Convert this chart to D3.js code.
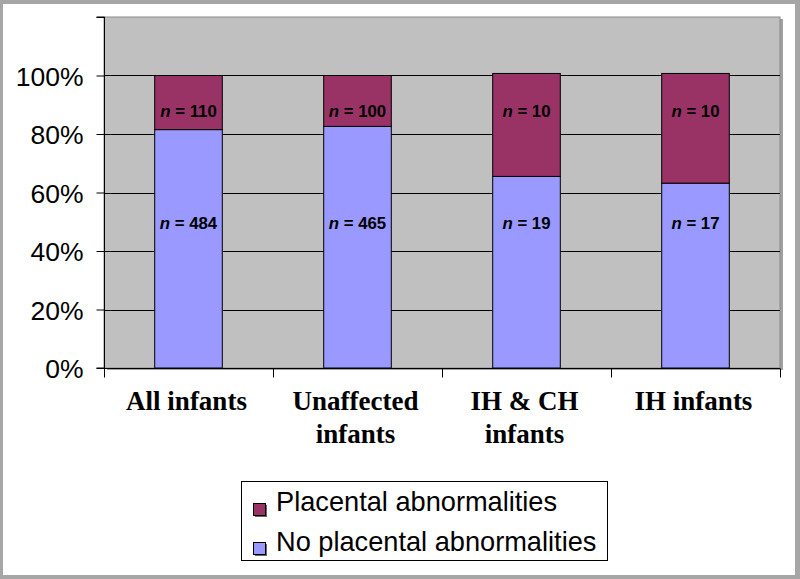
<!DOCTYPE html>
<html>
<head>
<meta charset="utf-8">
<script src="https://cdn.jsdelivr.net/npm/d3@7/dist/d3.min.js"></script>
<style>
  html, body { margin: 0; padding: 0; background: #fff; }
  svg { display: block; }
</style>
</head>
<body>
<svg id="chart" width="800" height="579"></svg>
<script>
// ---- data ----
const categories = [["All infants"], ["Unaffected", "infants"], ["IH & CH", "infants"], ["IH infants"]];
const noAbnormalPct = [81.5, 82.6, 65.5, 63.2];   // % of bar, lower segment
const abnormalPct   = [18.5, 17.4, 35.2, 37.5];   // % of bar, upper segment
const noAbnormalN   = [484, 465, 19, 17];
const abnormalN     = [110, 100, 10, 10];
const yTicks = [0, 20, 40, 60, 80, 100, 120];
const yTickLabels = ["0%", "20%", "40%", "60%", "80%", "100%", ""];
const seriesNames = ["Placental abnormalities", "No placental abnormalities"];
const seriesColors = ["#993366", "#9999ff"];

const svg = d3.select("#chart");
const W = 800, H = 579;

// outer frame
svg.append("rect").attr("x", 0).attr("y", 0).attr("width", W).attr("height", H).attr("fill", "#a6a6a6");
svg.append("rect").attr("x", 3).attr("y", 4).attr("width", 792).attr("height", 571).attr("fill", "#ffffff");

const plot = { left: 104, right: 780, top: 17, bottom: 368 };
const keys = categories.map(c => c.join(" "));
const x = d3.scaleBand().domain(keys).range([plot.left, plot.right]).paddingInner(0).paddingOuter(0);
const y = d3.scaleLinear().domain([0, 120]).range([plot.bottom, plot.top]);

// plot area background + shadow
svg.append("rect").attr("x", plot.left + 3).attr("y", plot.top + 2)
  .attr("width", plot.right - plot.left).attr("height", plot.bottom - plot.top)
  .attr("fill", "#a0a0a0");
svg.append("rect").attr("x", plot.left).attr("y", plot.top)
  .attr("width", plot.right - plot.left).attr("height", plot.bottom - plot.top)
  .attr("fill", "#c0c0c0").attr("stroke", "#8a8a8a").attr("stroke-width", 1);

// gridlines
svg.append("g").selectAll("line").data(yTicks.filter(t => t > 0 && t < 120)).join("line")
  .attr("x1", plot.left).attr("x2", plot.right)
  .attr("y1", d => Math.round(y(d)) + 0.5).attr("y2", d => Math.round(y(d)) + 0.5)
  .attr("stroke", "#000").attr("stroke-width", 1);

// bars
const bw = x.bandwidth() * 0.4;
const barG = svg.append("g");
keys.forEach((k, i) => {
  const x0 = x(k) + (x.bandwidth() - bw) / 2;
  barG.append("rect").attr("x", x0).attr("y", y(noAbnormalPct[i]))
    .attr("width", bw).attr("height", y(0) - y(noAbnormalPct[i]))
    .attr("fill", seriesColors[1]).attr("stroke", "#000").attr("stroke-width", 1);
  barG.append("rect").attr("x", x0).attr("y", y(noAbnormalPct[i] + abnormalPct[i]))
    .attr("width", bw).attr("height", y(noAbnormalPct[i]) - y(noAbnormalPct[i] + abnormalPct[i]))
    .attr("fill", seriesColors[0]).attr("stroke", "#000").attr("stroke-width", 1);
});

// n labels
function nLabel(cx, cy, n) {
  const t = svg.append("text").attr("x", cx).attr("y", cy)
    .attr("text-anchor", "middle").attr("dominant-baseline", "central")
    .attr("font-family", "Liberation Sans, Arial, sans-serif").attr("font-weight", "bold")
    .attr("font-size", 16.8).attr("fill", "#000");
  t.append("tspan").attr("font-style", "italic").text("n");
  t.append("tspan").text(" = " + n);
}
keys.forEach((k, i) => {
  const cx = x(k) + x.bandwidth() / 2;
  nLabel(cx, y(88), abnormalN[i]);
  nLabel(cx, y(49.7), noAbnormalN[i]);
});

// y axis
const yAxis = d3.axisLeft(y).tickValues(yTicks).tickSize(8).tickPadding(13)
  .tickFormat((d, i) => yTickLabels[i]);
const yg = svg.append("g").attr("transform", `translate(${plot.left + 0.5},0)`).call(yAxis);
yg.select(".domain").attr("stroke", "#000").attr("d", `M-8,${plot.top}H0V${plot.bottom}H-8`);
yg.selectAll(".tick line").attr("stroke", "#000");
yg.selectAll(".tick text").attr("font-family", "Liberation Sans, Arial, sans-serif")
  .attr("font-size", 26.5).attr("fill", "#000").attr("dy", "0.36em");

// x axis
const xAxis = d3.axisBottom(x).tickSize(0).tickFormat("");
const xg = svg.append("g").attr("transform", `translate(0,${plot.bottom + 0.5})`).call(xAxis);
xg.select(".domain").attr("stroke", "#000").attr("d", `M${plot.left},0H${plot.right}`);
const bounds = [plot.left, ...keys.map(k => x(k) + x.bandwidth())];
xg.selectAll("line.sep").data(bounds).join("line").attr("class", "sep")
  .attr("x1", d => Math.round(d) + 0.5).attr("x2", d => Math.round(d) + 0.5)
  .attr("y1", 0).attr("y2", 9).attr("stroke", "#000");

keys.forEach((k, i) => {
  const cx = x(k) + x.bandwidth() / 2 - 2;
  const t = svg.append("text").attr("x", cx).attr("y", 410)
    .attr("text-anchor", "middle")
    .attr("font-family", "Liberation Serif, Times New Roman, serif").attr("font-weight", "bold")
    .attr("font-size", 27).attr("fill", "#000");
  categories[i].forEach((line, j) => {
    t.append("tspan").attr("x", cx).attr("dy", j === 0 ? 0 : 33).text(line);
  });
});

// legend
const lg = svg.append("g");
lg.append("rect").attr("x", 241.5).attr("y", 481.5).attr("width", 366).attr("height", 79)
  .attr("fill", "#fff").attr("stroke", "#000").attr("stroke-width", 1);
seriesNames.forEach((name, i) => {
  const yy = 503 + i * 39;
  lg.append("rect").attr("x", 255).attr("y", yy + 2).attr("width", 12).attr("height", 12).attr("fill", "#666");
  lg.append("rect").attr("x", 253.5).attr("y", yy + 0.5).attr("width", 12).attr("height", 12)
    .attr("fill", seriesColors[i]).attr("stroke", "#000").attr("stroke-width", 1);
  lg.append("text").attr("x", 276).attr("y", 510.5 + i * 40)
    .attr("font-family", "Liberation Sans, Arial, sans-serif").attr("font-size", 27.2).attr("fill", "#000")
    .text(name);
});
</script>
</body>
</html>
